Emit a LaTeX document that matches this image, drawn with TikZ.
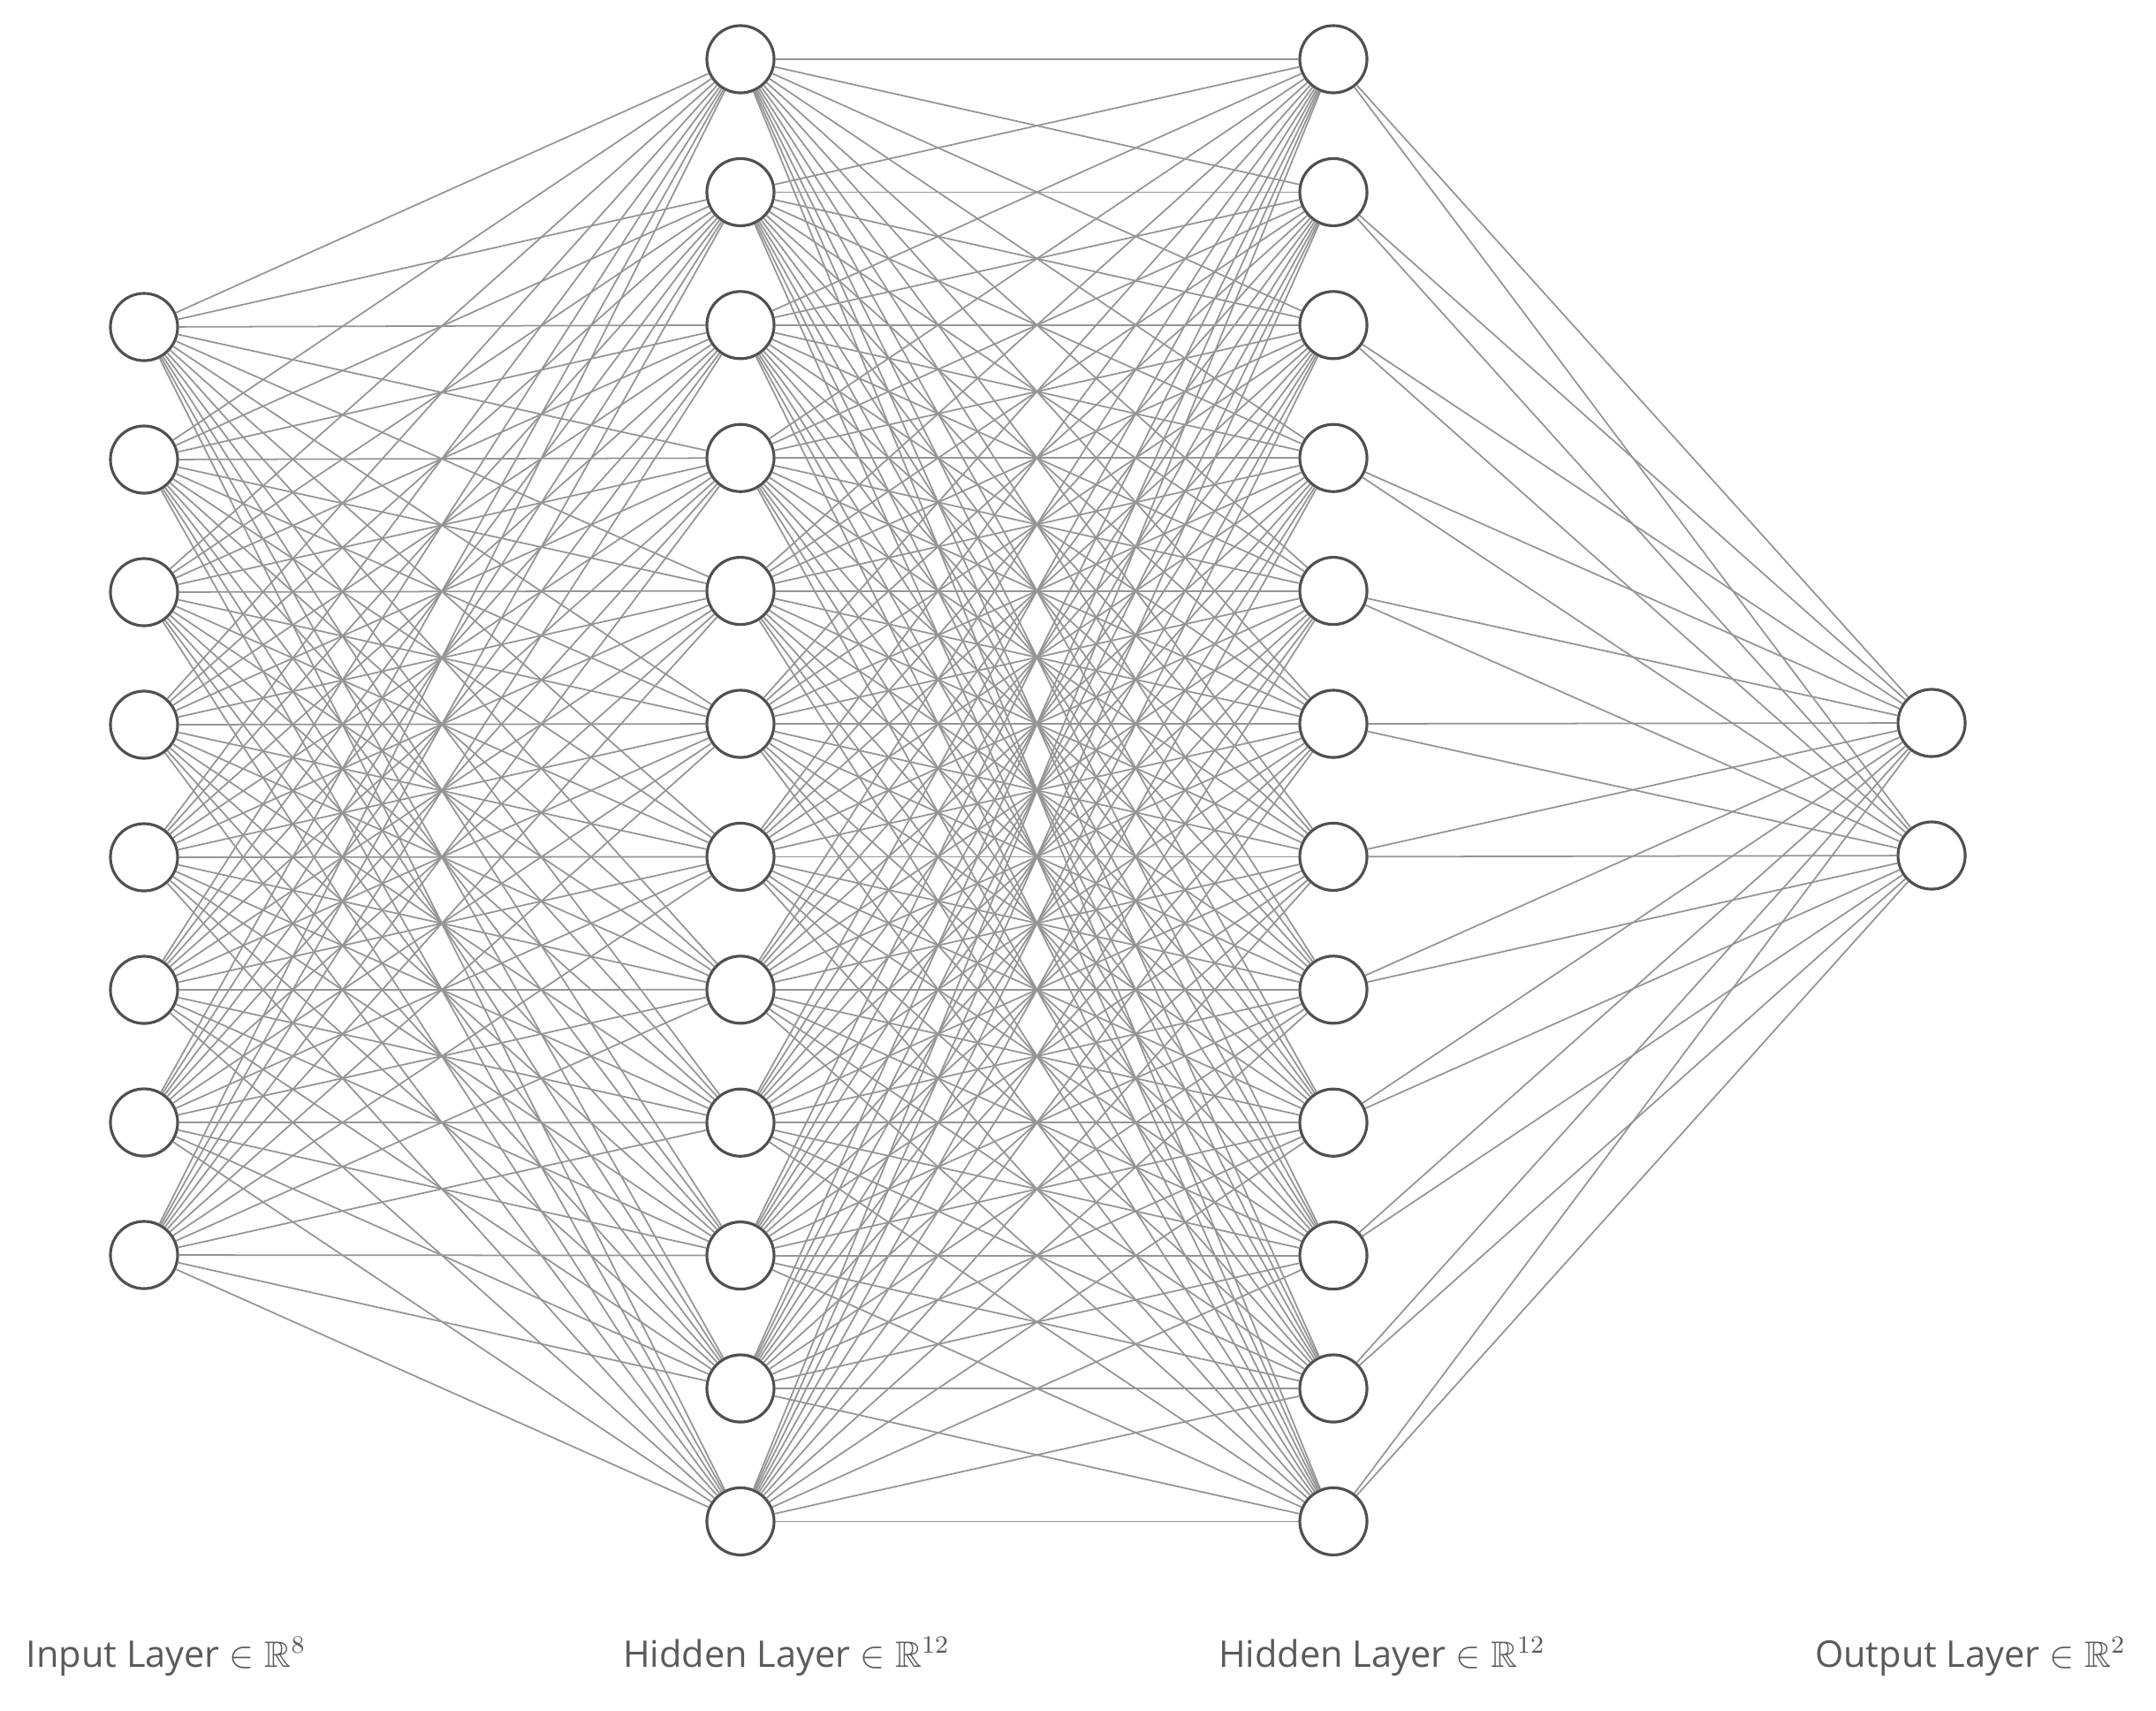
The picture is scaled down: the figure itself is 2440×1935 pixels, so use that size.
\documentclass[tikz,border=0pt]{standalone}
\usepackage{amssymb}
\usepackage{fontspec}
\setmainfont{Open Sans}
\usepackage{xcolor}
\usetikzlibrary{positioning}
\definecolor{ringgray}{HTML}{505050}
\definecolor{linkgray}{HTML}{959595}
\definecolor{textgray}{HTML}{5A5A5A}
\tikzset{
  neuron/.style={
    draw=ringgray,
    fill=white,
    circle,
    minimum size=0.76cm,
    inner sep=0pt,
    line width=0.9pt
  },
  link/.style={draw=linkgray, line width=0.5pt},
  layername/.style={anchor=base, font=\fontsize{11.8}{14}\selectfont, text=textgray}
}

\begin{document}
\begin{tikzpicture}[x=0.01cm, y=-0.01cm]
  \useasboundingbox (0,0) rectangle (2440,1935);

  \foreach \i in {1,...,8}
    \node[neuron] (in\i) at (163, {370+(\i-1)*150}) {};
  \foreach \i in {1,...,12}
    \node[neuron] (ha\i) at (838, {67+(\i-1)*150.4}) {};
  \foreach \i in {1,...,12}
    \node[neuron] (hb\i) at (1509, {67+(\i-1)*150.4}) {};
  \foreach \i in {1,2}
    \node[neuron] (out\i) at (2186, {818+(\i-1)*150}) {};

  \foreach \i in {1,...,8}
    \foreach \j in {1,...,12}
      \draw[link] (in\i) -- (ha\j);
  \foreach \i in {1,...,12}
    \foreach \j in {1,...,12}
      \draw[link] (ha\i) -- (hb\j);
  \foreach \i in {1,...,12}
    \foreach \j in {1,2}
      \draw[link] (hb\i) -- (out\j);

  \node[layername] (lin) at (188, 1886) {Input Layer $\in\mathbb{R}^{8}$};
  \node[layername] (lha) at (890, 1886) {Hidden Layer $\in\mathbb{R}^{12}$};
  \node[layername] (lhb) at (1564, 1886) {Hidden Layer $\in\mathbb{R}^{12}$};
  \node[layername] (lout) at (2230, 1886) {Output Layer $\in\mathbb{R}^{2}$};
\end{tikzpicture}
\end{document}
